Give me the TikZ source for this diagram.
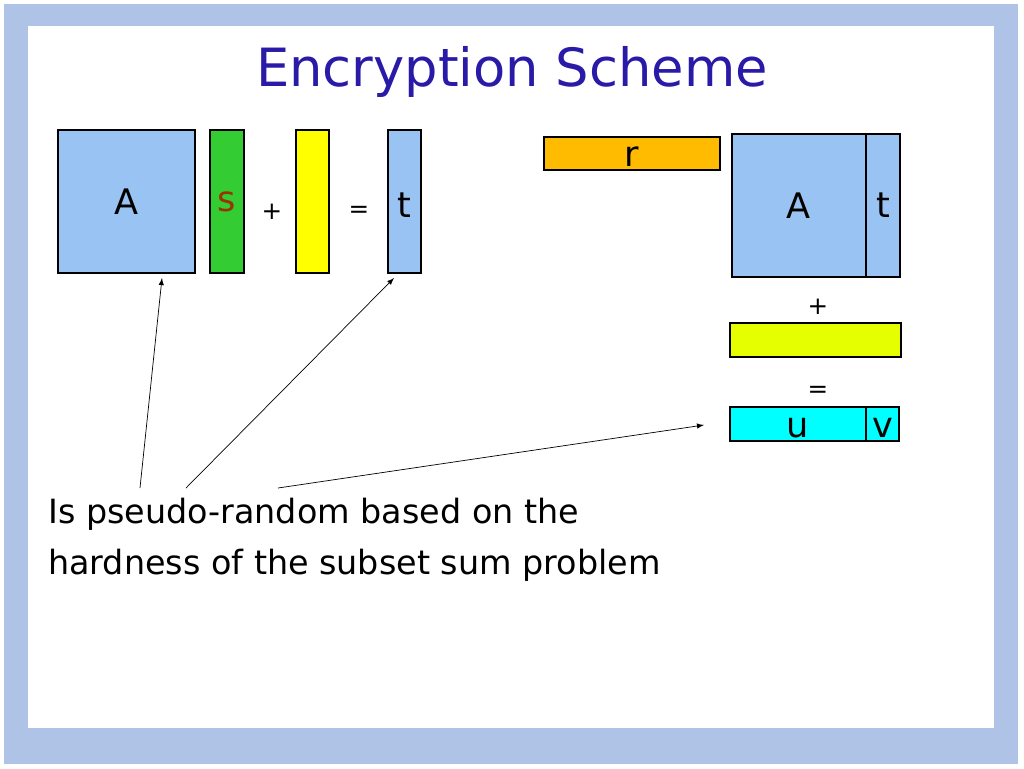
\documentclass[tikz,border=0pt]{standalone}
\usepackage{fontspec}
\setmainfont{DejaVu Sans}
\definecolor{framecol}{HTML}{AFC3E6}
\definecolor{titlecol}{HTML}{2A1AA8}
\definecolor{matblue}{HTML}{99C3F2}
\definecolor{vecgreen}{HTML}{33CC33}
\definecolor{vecyellow}{HTML}{FFFF00}
\definecolor{rorange}{HTML}{FFBB00}
\definecolor{barlime}{HTML}{E6FF00}
\definecolor{ucyan}{HTML}{00FFFF}
\definecolor{sred}{HTML}{993300}
\begin{document}
\begin{tikzpicture}[x=0.02cm, y=-0.02cm,
    box/.style={draw, line width=0.6pt, inner sep=0pt},
    lbl/.style={font=\fontsize{20}{22}\selectfont},
    op/.style={font=\fontsize{14}{16}\selectfont}]

    % Frame
    \useasboundingbox (0,0) rectangle (1024,768);
    \fill[white] (0,0) rectangle (1024,768);
    \fill[framecol] (4,4) rectangle (1018,764);
    \fill[white] (28,26) rectangle (994,728);

    % Title
    \node (title) at (512,72) [text=titlecol, font=\fontsize{30}{34}\selectfont] {Encryption Scheme};

    % Nodes
    \node (A) [box, fill=matblue, minimum width=137*0.02cm, minimum height=143*0.02cm] at (126.5,201.5) {};
    \node at (A) [lbl] {A};
    \node (s) [box, fill=vecgreen, minimum width=34*0.02cm, minimum height=143*0.02cm] at (227,201.5) {};
    \node at (s) [lbl, text=sred] {s};
    \node (plus) at (272,212) [op] {+};
    \node (e) [box, fill=vecyellow, minimum width=33*0.02cm, minimum height=143*0.02cm] at (312.5,201.5) {};
    \node (eq) at (359,212) [op] {=};
    \node (t) [box, fill=matblue, minimum width=33*0.02cm, minimum height=143*0.02cm] at (404.5,201.5) {};
    \node at (404.5,205) [lbl] {t};

    \node (r) [box, fill=rorange, minimum width=176*0.02cm, minimum height=33*0.02cm] at (632,153.5) {};
    \node at (632,157) [lbl] {r};
    \node (A2) [box, fill=matblue, minimum width=134*0.02cm, minimum height=143*0.02cm] at (799,205.5) {};
    \node at (A2) [lbl] {A};
    \node (t2) [box, fill=matblue, minimum width=34*0.02cm, minimum height=143*0.02cm] at (883,205.5) {};
    \node at (t2) [lbl] {t};
    \node (plus2) at (818,307) [op] {+};
    \node (e2) [box, fill=barlime, minimum width=171*0.02cm, minimum height=34*0.02cm] at (815.5,340) {};
    \node (eq2) at (818,392) [op] {=};
    \node (u) [box, fill=ucyan, minimum width=136*0.02cm, minimum height=34*0.02cm] at (798,424) {};
    \node at (798,428) [lbl] {u};
    \node (v) [box, fill=ucyan, minimum width=33*0.02cm, minimum height=34*0.02cm] at (882.5,424) {};
    \node at (882.5,428) [lbl] {v};

    \node (desc) at (42,540) [anchor=west, align=left, font=\fontsize{19}{29}\selectfont] {Is pseudo-random based on the\\hardness of the subset sum problem};
    \coordinate (d1) at (140,488);
    \coordinate (d2) at (186,488);
    \coordinate (d3) at (278,488);
    \coordinate (aend) at (162,278);
    \coordinate (tend) at (394,278);
    \coordinate (uend) at (704,425);

    % Edges
    \draw[-latex, thin] (d1) -- (aend);
    \draw[-latex, thin] (d2) -- (tend);
    \draw[-latex, thin] (d3) -- (uend);
\end{tikzpicture}
\end{document}
